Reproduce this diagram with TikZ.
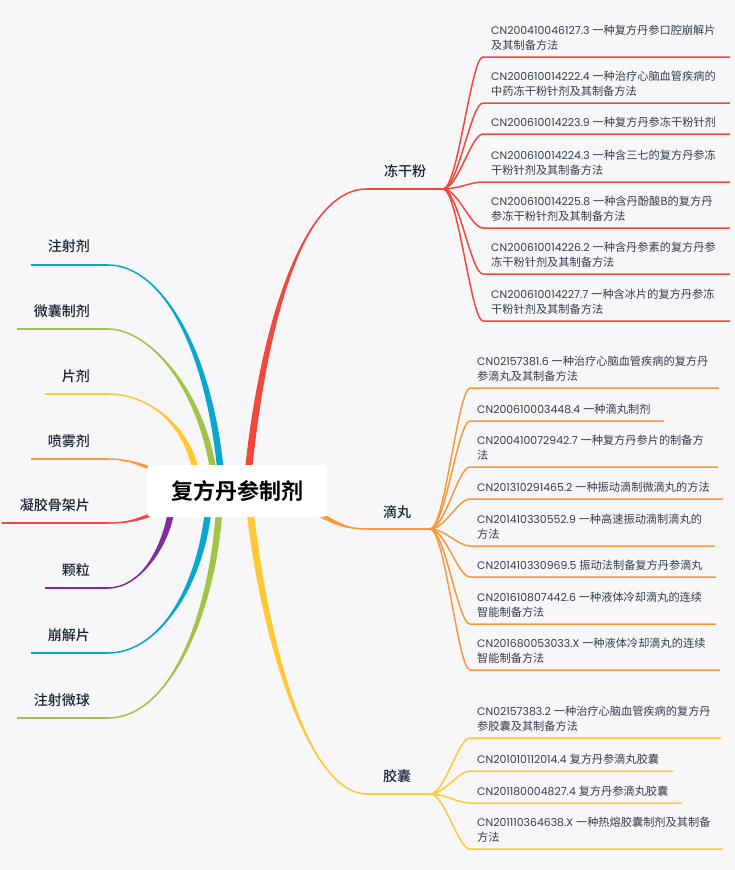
\documentclass[tikz,border=0pt]{standalone}
\usepackage{fontspec}
\setmainfont{Poppins}
\newfontfamily\cjk{Noto Sans CJK SC}
\newfontfamily\cjkm{Noto Sans CJK SC Medium}
\newfontfamily\cjkb{Noto Sans CJK SC Bold}
\usetikzlibrary{calc}
\definecolor{bg}{RGB}{247,247,250}
\definecolor{cred}{RGB}{240,72,58}
\definecolor{corange}{RGB}{248,152,58}
\definecolor{cyellow}{RGB}{255,200,52}
\definecolor{cblue}{RGB}{8,168,206}
\definecolor{cgreen}{RGB}{162,195,72}
\definecolor{cpurple}{RGB}{126,46,152}
\definecolor{itemtxt}{RGB}{55,60,72}
\definecolor{labtxt}{RGB}{26,34,52}
\newcommand\zh[1]{{\cjk\fontsize{11.2}{14.5}\selectfont #1}}
% color, thick end, control 1, control 2, thin end, half-width offset
\newcommand\taperline[6]{%
  \fill[#1] ($(#2)+(#6)$) .. controls ($(#3)+(#6)$) and (#4) .. (#5)
     .. controls (#4) and ($(#3)-(#6)$) .. ($(#2)-(#6)$) -- cycle;
  \draw[#1, wire] (#2) .. controls (#3) and (#4) .. (#5);}
\begin{document}
\begin{tikzpicture}[x=1pt,y=-1pt,
  wire/.style={line width=1.5pt},
  item/.style={anchor=south west, inner sep=0pt, align=left,
     font=\fontsize{10.9}{14.5}\selectfont, text=itemtxt},
  lab/.style={inner sep=0pt, font=\cjkm\fontsize{14}{16}\selectfont, text=labtxt},
  rootbox/.style={fill=white, rounded corners=4pt, minimum width=180pt,
     minimum height=52pt, inner sep=0pt, font=\cjkb\fontsize{22}{24}\selectfont, text=black}]
\fill[bg] (0,0) rectangle (735,870);
\useasboundingbox (0,0) rectangle (735,870);

% ---------- left branches ----------
\coordinate (a0) at (221,475); \coordinate (a1) at (108,265); \coordinate (a2) at (31,265);
\coordinate (b0) at (214,475); \coordinate (b1) at (108,329); \coordinate (b2) at (17,329);
\coordinate (c0) at (197,475); \coordinate (c1) at (108,394); \coordinate (c2) at (45,394);
\coordinate (d0) at (165,475); \coordinate (d1) at (108,459); \coordinate (d2) at (31,459);
\coordinate (e0) at (165,508); \coordinate (e1) at (108,523); \coordinate (e2) at (2,523);
\coordinate (f0) at (171,512); \coordinate (f1) at (108,588); \coordinate (f2) at (45,588);
\coordinate (g0) at (208,512); \coordinate (g1) at (108,653); \coordinate (g2) at (31,653);
\coordinate (h0) at (219,512); \coordinate (h1) at (108,718); \coordinate (h2) at (17,718);

\taperline{cblue}{a0}{209,345}{160,265}{a1}{3.3,0}
\draw[cblue,wire] (a1) -- (a2);
\taperline{cgreen}{b0}{202,390}{150,329}{b1}{3.3,0}
\draw[cgreen,wire] (b1) -- (b2);
\taperline{cyellow}{c0}{186,420}{145,394}{c1}{3.3,0}
\draw[cyellow,wire] (c1) -- (c2);
\taperline{corange}{d0}{140,463}{125,459}{d1}{0,2.2}
\draw[corange,wire] (d1) -- (d2);
\taperline{cred}{e0}{140,521}{125,523}{e1}{0,2.2}
\draw[cred,wire] (e1) -- (e2);
\taperline{cpurple}{f0}{165,548}{140,588}{f1}{3.3,0}
\draw[cpurple,wire] (f1) -- (f2);
\taperline{cblue}{g0}{200,585}{160,653}{g1}{3.3,0}
\draw[cblue,wire] (g1) -- (g2);
\taperline{cgreen}{h0}{212,615}{170,718}{h1}{3.3,0}
\draw[cgreen,wire] (h1) -- (h2);

% ---------- right main branches ----------
\coordinate (rm0) at (248,475); \coordinate (rm1) at (367,189); \coordinate (jr) at (443,189);
\coordinate (om0) at (315,512); \coordinate (om1) at (367,529); \coordinate (jo) at (430,529);
\coordinate (ym0) at (250,510); \coordinate (ym1) at (367,794); \coordinate (jy) at (430,794);
\taperline{cred}{rm0}{262,335}{300,189}{rm1}{3.6,0}
\draw[cred,wire] (rm1) -- (jr);
\taperline{corange}{om0}{340,526}{350,529}{om1}{0,2.6}
\draw[corange,wire] (om1) -- (jo);
\taperline{cyellow}{ym0}{266,650}{310,794}{ym1}{3.6,0}
\draw[cyellow,wire] (ym1) -- (jy);

% ---------- sub branches ----------
\foreach \i/\uy/\re in {1/57/730,2/103/730,3/134/730,4/182/730,5/228/730,6/274/730,7/321/730}{
  \coordinate (ra\i) at (483,\uy); \coordinate (rb\i) at (\re,\uy);
  \draw[cred,wire] (jr) .. controls ($(jr)+(15,0)$) and ($(ra\i)+(-12,0)$) .. (ra\i) -- (rb\i);}
\foreach \i/\uy/\re in {1/388/719,2/421/664,3/467/718,4/499/723,5/546/715,6/577/716,7/624/716,8/670/720}{
  \coordinate (oa\i) at (470,\uy); \coordinate (ob\i) at (\re,\uy);
  \draw[corange,wire] (jo) .. controls ($(jo)+(15,0)$) and ($(oa\i)+(-12,0)$) .. (oa\i) -- (ob\i);}
\foreach \i/\uy/\re in {1/738/721,2/771/673,3/803/682,4/849/723}{
  \coordinate (ya\i) at (470,\uy); \coordinate (yb\i) at (\re,\uy);
  \draw[cyellow,wire] (jy) .. controls ($(jy)+(15,0)$) and ($(ya\i)+(-12,0)$) .. (ya\i) -- (yb\i);}

% ---------- root ----------
\node[rootbox] (root) at (237,491) {复方丹参制剂};

% ---------- labels ----------
\node[lab, anchor=east] (la) at (90,246) {注射剂};
\node[lab, anchor=east] (lb) at (90,311) {微囊制剂};
\node[lab, anchor=east] (lc) at (90,376) {片剂};
\node[lab, anchor=east] (ld) at (90,441) {喷雾剂};
\node[lab, anchor=east] (le) at (90,505) {凝胶骨架片};
\node[lab, anchor=east] (lf) at (90,570) {颗粒};
\node[lab, anchor=east] (lg) at (90,635) {崩解片};
\node[lab, anchor=east] (lh) at (90,700) {注射微球};
\node[lab] (lr) at (405,171) {冻干粉};
\node[lab] (lo) at (397,512) {滴丸};
\node[lab] (ly) at (397,776) {胶囊};

% ---------- items ----------
\node[item] (r1) at (491,50.5) {CN200410046127.3 \zh{一种复方丹参口腔崩解片}\\\zh{及其制备方法}};
\node[item] (r2) at (491,96.5) {CN200610014222.4 \zh{一种治疗心脑血管疾病的}\\\zh{中药冻干粉针剂及其制备方法}};
\node[item] (r3) at (491,127.5) {CN200610014223.9 \zh{一种复方丹参冻干粉针剂}};
\node[item] (r4) at (491,175.5) {CN200610014224.3 \zh{一种含三七的复方丹参冻}\\\zh{干粉针剂及其制备方法}};
\node[item] (r5) at (491,221.5) {CN200610014225.8 \zh{一种含丹酚酸B的复方丹}\\\zh{参冻干粉针剂及其制备方法}};
\node[item] (r6) at (491,267.5) {CN200610014226.2 \zh{一种含丹参素的复方丹参}\\\zh{冻干粉针剂及其制备方法}};
\node[item] (r7) at (491,314.5) {CN200610014227.7 \zh{一种含冰片的复方丹参冻}\\\zh{干粉针剂及其制备方法}};

\node[item] (o1) at (477,381.5) {CN02157381.6 \zh{一种治疗心脑血管疾病的复方丹}\\\zh{参滴丸及其制备方法}};
\node[item] (o2) at (477,414.5) {CN200610003448.4 \zh{一种滴丸制剂}};
\node[item] (o3) at (477,460.5) {CN200410072942.7 \zh{一种复方丹参片的制备方}\\\zh{法}};
\node[item] (o4) at (477,492.5) {CN201310291465.2 \zh{一种振动滴制微滴丸的方法}};
\node[item] (o5) at (477,539.5) {CN201410330552.9 \zh{一种高速振动滴制滴丸的}\\\zh{方法}};
\node[item] (o6) at (477,570.5) {CN201410330969.5 \zh{振动法制备复方丹参滴丸}};
\node[item] (o7) at (477,617.5) {CN201610807442.6 \zh{一种液体冷却滴丸的连续}\\\zh{智能制备方法}};
\node[item] (o8) at (477,663.5) {CN201680053033.X \zh{一种液体冷却滴丸的连续}\\\zh{智能制备方法}};

\node[item] (y1) at (477,731.5) {CN02157383.2 \zh{一种治疗心脑血管疾病的复方丹}\\\zh{参胶囊及其制备方法}};
\node[item] (y2) at (477,764.5) {CN201010112014.4 \zh{复方丹参滴丸胶囊}};
\node[item] (y3) at (477,796.5) {CN201180004827.4 \zh{复方丹参滴丸胶囊}};
\node[item] (y4) at (477,842.5) {CN201110364638.X \zh{一种热熔胶囊制剂及其制备}\\\zh{方法}};
\end{tikzpicture}
\end{document}
